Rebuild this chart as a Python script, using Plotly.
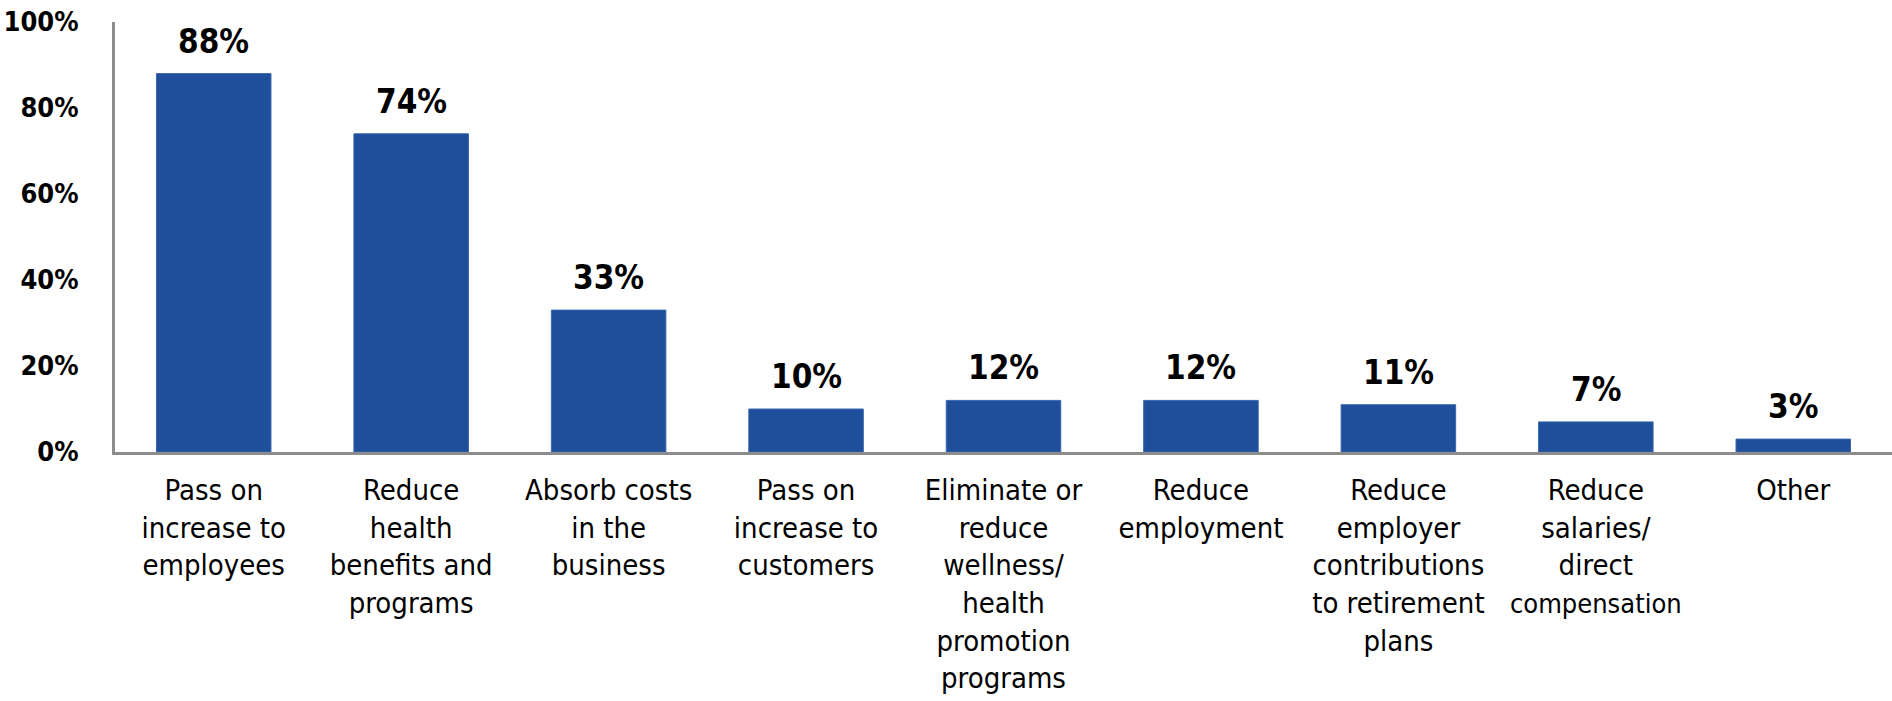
import plotly.graph_objects as go

categories = [
    "Pass on<br>increase to<br>employees",
    "Reduce<br>health<br>benefits and<br>programs",
    "Absorb costs<br>in the<br>business",
    "Pass on<br>increase to<br>customers",
    "Eliminate or<br>reduce<br>wellness/<br>health<br>promotion<br>programs",
    "Reduce<br>employment",
    "Reduce<br>employer<br>contributions<br>to retirement<br>plans",
    "Reduce<br>salaries/<br>direct<br><span style='font-size:27px'>compensation</span>",
    "Other",
]
values = [88, 74, 33, 10, 12, 12, 11, 7, 3]
y_ticks = [0, 20, 40, 60, 80, 100]
y_tick_labels = ["0%", "20%", "40%", "60%", "80%", "100%"]

FONT = "DejaVu Sans Condensed, DejaVu Sans, sans-serif"
BAR_COLOR = "#1F4E9A"
AXIS_COLOR = "#8C8C8C"

fig = go.Figure()
fig.add_trace(go.Bar(
    x=categories,
    y=values,
    marker=dict(color=BAR_COLOR, line=dict(color="#3A66AE", width=1)),
    width=0.58,
    hoverinfo="skip",
))

for c, v in zip(categories, values):
    fig.add_annotation(
        x=c, y=v, text=f"<b>{v}%</b>", showarrow=False,
        yanchor="bottom", yshift=11,
        font=dict(family=FONT, size=33, color="#000000"),
    )

fig.update_layout(
    width=1892, height=701,
    margin=dict(l=115, r=0, t=22, b=249),
    paper_bgcolor="white", plot_bgcolor="white",
    showlegend=False,
    xaxis=dict(
        showline=True, linecolor=AXIS_COLOR, linewidth=3,
        showgrid=False, zeroline=False, ticks="",
        tickfont=dict(family=FONT, size=29, color="#000000"),
        ticklabelstandoff=10,
        tickangle=0, automargin=False,
    ),
    yaxis=dict(
        range=[0, 100], showline=True, linecolor=AXIS_COLOR, linewidth=3,
        showgrid=False, zeroline=False, ticks="",
        tickvals=y_ticks, ticktext=[f"<b>{t}</b>" for t in y_tick_labels],
        tickfont=dict(family=FONT, size=27, color="#000000"),
        ticklabelstandoff=28, automargin=False,
    ),
)

fig.write_html("out.html")
